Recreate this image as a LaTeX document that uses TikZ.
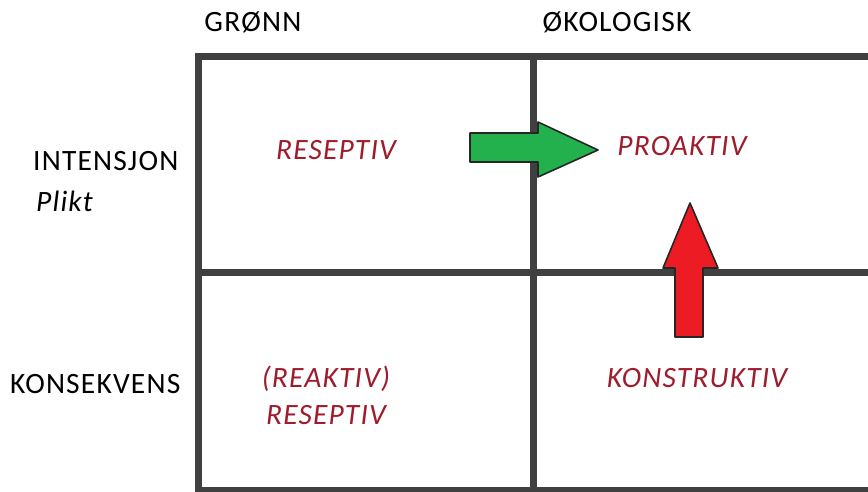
\documentclass[tikz,border=0pt]{standalone}
\usepackage{fontspec}
\setmainfont{Carlito}[LetterSpace=4]
\definecolor{gridgray}{HTML}{404040}
\definecolor{txtred}{HTML}{9E1C2C}
\definecolor{arrgreen}{HTML}{22B14C}
\definecolor{arrred}{HTML}{ED1C24}
\begin{document}
\begin{tikzpicture}[x=1pt,y=-1pt,
  gridline/.style={draw=gridgray,line width=7pt},
  head/.style={font=\fontsize{29.5}{34}\selectfont,text=black,inner sep=0pt},
  cell/.style={font=\fontsize{29.5}{37}\selectfont\itshape,text=txtred,inner sep=0pt,align=center},
  fatarrow/.style={draw=black!85,line width=1.6pt,line join=round}]
\useasboundingbox (0,0) rectangle (868,492);
\fill[white] (0,0) rectangle (868,492);
% grid
\coordinate (tl) at (198,57);
\coordinate (tr) at (872,57);
\coordinate (ml) at (198,272);
\coordinate (mr) at (872,272);
\coordinate (bl) at (198,490);
\coordinate (br) at (872,490);
\coordinate (bll) at (198,496);
\coordinate (mt) at (533,57);
\coordinate (mb) at (533,496);
\draw[gridline] (tr) -- (tl) -- (bll);
\draw[gridline] (ml) -- (mr);
\draw[gridline] (bl) -- (br);
\draw[gridline] (mt) -- (mb);
% headings
\node[head] (gronn) at (253,22) {GRØNN};
\node[head] (okol) at (617,22) {ØKOLOGISK};
\node[head,anchor=west] (intens) at (33,161) {INTENSJON};
\node[head,anchor=west,font=\fontsize{29.5}{34}\selectfont\itshape] (plikt) at (36,201) {Plikt};
\node[head,anchor=west] (konsek) at (10,384) {KONSEKVENS};
% cells
\node[cell] (resep1) at (336,150) {RESEPTIV};
\node[cell] (proakt) at (682,146) {PROAKTIV};
\node[cell] (reakt) at (326,395) {(REAKTIV)\\RESEPTIV};
\node[cell] (konstr) at (697,378) {KONSTRUKTIV};
% arrows
\filldraw[fatarrow,fill=arrgreen] (470,133) -- (538,133) -- (538,122) -- (598,150) -- (538,177) -- (538,162) -- (470,162) -- cycle;
\filldraw[fatarrow,fill=arrred] (675,337) -- (675,268) -- (663,268) -- (690,203) -- (718,268) -- (703,268) -- (703,337) -- cycle;
\end{tikzpicture}
\end{document}
